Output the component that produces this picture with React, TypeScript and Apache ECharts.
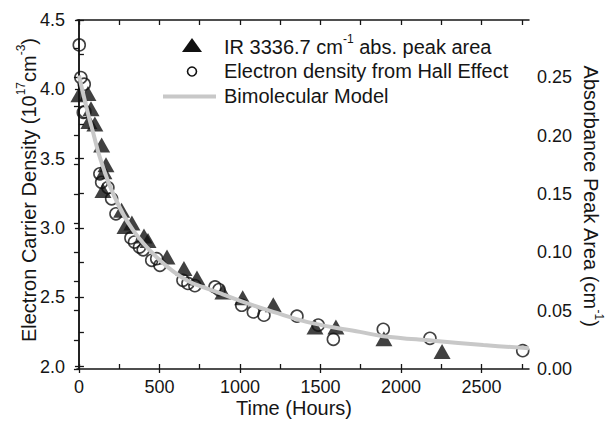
import React, { useEffect, useRef } from "react";
import * as echarts from "echarts";

const FONT = "'Liberation Sans', Arial, Helvetica, sans-serif";
const INK = "#151515";
const MODEL_GRAY = "#c8c8c8";

// Axis ticks / labels
const xLabelValues = [0, 500, 1000, 1500, 2000, 2500];
const xTickValues = [0, 250, 500, 750, 1000, 1250, 1500, 1750, 2000, 2250, 2500, 2750];
const yLeftLabelValues = [2.0, 2.5, 3.0, 3.5, 4.0, 4.5];
const yLeftTickValues = [2.0, 2.25, 2.5, 2.75, 3.0, 3.25, 3.5, 3.75, 4.0, 4.25, 4.5];
const yRightLabelValues = [0, 0.05, 0.1, 0.15, 0.2, 0.25];
const yRightTickValues = [0, 0.025, 0.05, 0.075, 0.1, 0.125, 0.15, 0.175, 0.2, 0.225, 0.25, 0.275];

// IR 3336.7 cm-1 absorbance peak area (right axis)
const irHours = [0, 56, 75, 62, 99, 141, 168, 155, 149, 265, 286, 329, 404, 429, 547, 652, 733, 894, 1017, 1207, 1466, 1596, 1894, 2255];
const irArea = [0.235, 0.236, 0.223, 0.212, 0.21, 0.192, 0.175, 0.169, 0.153, 0.136, 0.122, 0.125, 0.114, 0.11, 0.096, 0.086, 0.078, 0.066, 0.061, 0.055, 0.036, 0.036, 0.026, 0.015];

// Electron density from Hall effect (left axis, 10^17 cm^-3)
const hallHours = [2, 12, 33, 27, 37, 130, 141, 180, 203, 230, 323, 345, 376, 399, 452, 483, 503, 646, 677, 720, 845, 870, 1011, 1083, 1149, 1354, 1486, 1580, 1890, 2180, 2756];
const hallDensity = [4.32, 4.085, 4.037, 3.833, 3.838, 3.39, 3.329, 3.291, 3.21, 3.102, 2.928, 2.898, 2.862, 2.842, 2.766, 2.778, 2.73, 2.622, 2.599, 2.583, 2.574, 2.555, 2.442, 2.394, 2.37, 2.363, 2.299, 2.196, 2.268, 2.203, 2.114];

// Bimolecular model curve (left axis)
const modelHours = [0, 52, 90, 130, 213, 337, 503, 669, 855, 1020, 1207, 1455, 1745, 1890, 2201, 2511, 2795];
const modelDensity = [4.1, 3.845, 3.68, 3.509, 3.246, 2.982, 2.766, 2.622, 2.538, 2.466, 2.394, 2.311, 2.25, 2.219, 2.186, 2.155, 2.131];

const X_MIN = -12;
const X_MAX = 2795;
const YL_MIN = 1.982;
const YL_MAX = 4.5;
const YR_MIN = 0;
const YR_MAX = 0.299;

export default function App() {
  const ref = useRef<HTMLDivElement>(null);

  useEffect(() => {
    if (!ref.current) return;
    const chart = echarts.init(ref.current, undefined, { renderer: "svg" });

    const axisLine = { show: true, lineStyle: { color: INK, width: 1.5 } };
    const labelStyle = { color: INK, fontSize: 18, fontFamily: FONT };
    const gridBox = { left: 77, right: 76, top: 20, bottom: 54 };
    const richTitle = {
      a: { fontSize: 20, fontFamily: FONT, fill: INK, lineHeight: 28 },
      s: { fontSize: 12, fontFamily: FONT, fill: INK, lineHeight: 12, verticalAlign: "top" },
    };

    const option: any = {
      animation: false,
      textStyle: { fontFamily: FONT },
      grid: [gridBox, gridBox],
      xAxis: [
        {
          type: "value",
          gridIndex: 0,
          position: "bottom",
          min: X_MIN,
          max: X_MAX,
          axisLine,
          axisTick: { show: true, inside: true, length: 5, lineStyle: { color: INK, width: 1.3 }, customValues: xTickValues },
          axisLabel: { ...labelStyle, margin: 9, customValues: xLabelValues, formatter: (v: number) => String(v) },
          splitLine: { show: false },
        },
        {
          type: "value",
          gridIndex: 0,
          position: "top",
          min: X_MIN,
          max: X_MAX,
          axisLine,
          axisTick: { show: true, inside: true, length: 5, lineStyle: { color: INK, width: 1.3 }, customValues: xTickValues },
          axisLabel: { show: false },
          splitLine: { show: false },
        },
        {
          type: "value",
          gridIndex: 1,
          position: "bottom",
          min: X_MIN,
          max: X_MAX,
          axisLine: { show: false },
          axisTick: { show: true, inside: false, length: 4, lineStyle: { color: INK, width: 1.3 }, customValues: xLabelValues },
          axisLabel: { show: false },
          splitLine: { show: false },
        },
      ],
      yAxis: [
        {
          type: "value",
          gridIndex: 0,
          position: "left",
          min: YL_MIN,
          max: YL_MAX,
          axisLine,
          axisTick: { show: true, inside: true, length: 5, lineStyle: { color: INK, width: 1.3 }, customValues: yLeftTickValues },
          axisLabel: { ...labelStyle, margin: 12, customValues: yLeftLabelValues, formatter: (v: number) => v.toFixed(1) },
          splitLine: { show: false },
        },
        {
          type: "value",
          gridIndex: 0,
          position: "right",
          min: YR_MIN,
          max: YR_MAX,
          axisLine,
          axisTick: { show: true, inside: true, length: 5, lineStyle: { color: INK, width: 1.3 }, customValues: yRightTickValues },
          axisLabel: { ...labelStyle, margin: 8, customValues: yRightLabelValues, formatter: (v: number) => v.toFixed(2) },
          splitLine: { show: false },
        },
        {
          type: "value",
          gridIndex: 1,
          position: "left",
          min: YL_MIN,
          max: YL_MAX,
          axisLine: { show: false },
          axisTick: { show: true, inside: false, length: 4, lineStyle: { color: INK, width: 1.3 }, customValues: yLeftLabelValues },
          axisLabel: { show: false },
          splitLine: { show: false },
        },
      ],
      series: [
        {
          type: "scatter",
          name: "IR 3336.7 cm-1 abs. peak area",
          xAxisIndex: 0,
          yAxisIndex: 1,
          symbol: "triangle",
          symbolSize: [17, 15],
          itemStyle: { color: "#111" },
          data: irHours.map((t, i) => [t, irArea[i]]),
          z: 3,
        },
        {
          type: "scatter",
          name: "Electron density from Hall Effect",
          xAxisIndex: 0,
          yAxisIndex: 0,
          symbol: "circle",
          symbolSize: 12,
          itemStyle: { color: "rgba(0,0,0,0)", borderColor: "#111", borderWidth: 1.6 },
          data: hallHours.map((t, i) => [t, hallDensity[i]]),
          z: 3,
        },
        {
          type: "line",
          name: "Bimolecular Model",
          xAxisIndex: 0,
          yAxisIndex: 0,
          smooth: 0.4,
          symbol: "none",
          showSymbol: false,
          lineStyle: { color: MODEL_GRAY, width: 4 },
          data: modelHours.map((t, i) => [t, modelDensity[i]]),
          z: 4,
        },
      ],
      graphic: [
        {
          type: "text",
          x: 29,
          y: 190,
          rotation: Math.PI / 2,
          style: {
            text: "{a|Electron Carrier Density (10}{s|17}{a|cm}{s|-3}{a|)}",
            align: "center",
            verticalAlign: "middle",
            fill: INK,
            rich: richTitle,
          },
        },
        {
          type: "text",
          x: 591,
          y: 196,
          rotation: -Math.PI / 2,
          style: {
            text: "{a|Absorbance Peak Area (cm}{s|-1}{a|)}",
            align: "center",
            verticalAlign: "middle",
            fill: INK,
            rich: richTitle,
          },
        },
        {
          type: "text",
          x: 294,
          y: 408,
          style: { text: "Time (Hours)", fontSize: 20, fontFamily: FONT, fill: INK, align: "center", verticalAlign: "middle" },
        },
        {
          type: "polygon",
          shape: { points: [[192, 38], [202, 52], [182, 52]] },
          style: { fill: "#111" },
        },
        {
          type: "circle",
          shape: { cx: 192, cy: 71.5, r: 4.5 },
          style: { fill: "none", stroke: "#111", lineWidth: 1.6 },
        },
        {
          type: "line",
          shape: { x1: 163, y1: 96.5, x2: 216, y2: 96.5 },
          style: { stroke: MODEL_GRAY, lineWidth: 4 },
        },
        {
          type: "text",
          x: 224,
          y: 46.5,
          style: {
            text: "{a|IR 3336.7 cm}{s|-1}{a| abs. peak area}",
            align: "left",
            verticalAlign: "middle",
            fill: INK,
            rich: richTitle,
          },
        },
        {
          type: "text",
          x: 224,
          y: 71,
          style: { text: "Electron density from Hall Effect", fontSize: 20, fontFamily: FONT, fill: INK, align: "left", verticalAlign: "middle" },
        },
        {
          type: "text",
          x: 224,
          y: 96,
          style: { text: "Bimolecular Model", fontSize: 20, fontFamily: FONT, fill: INK, align: "left", verticalAlign: "middle" },
        },
      ],
    };

    chart.setOption(option);
    return () => chart.dispose();
  }, []);

  return (
    <div
      ref={ref}
      style={{ position: "fixed", left: 0, top: 0, width: 605, height: 423, background: "#fff" }}
    />
  );
}
